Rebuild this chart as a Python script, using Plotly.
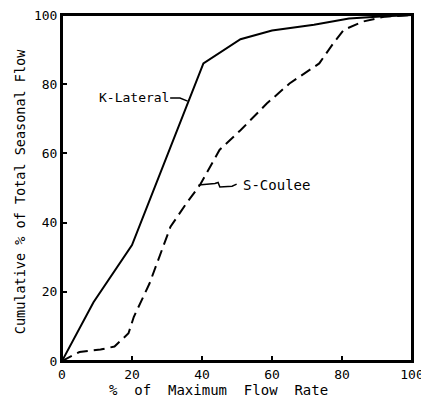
import plotly.graph_objects as go

k_x = [0, 9, 20, 40.4, 51, 60, 72, 82, 91, 100]
k_y = [0, 17, 33.5, 86, 93, 95.5, 97.2, 99, 99.6, 100]

s_x = [0, 5, 11, 15, 19, 20.5, 25, 31, 35.5, 39.5, 45, 51, 58.5, 65, 73.5, 77.5, 80.5, 86, 92, 100]
s_y = [0, 2.6, 3.3, 4.2, 8, 12.7, 22.4, 38.8, 45.5, 51, 61, 66.7, 74.4, 80.2, 86, 91.8, 95.7, 98.1, 99.5, 100]

ticks = [0, 20, 40, 60, 80, 100]

# label leader lines (data coordinates)
k_lead_x = [30.9, 33.7, 35.9]
k_lead_y = [76.0, 76.0, 75.1]
s_lead_x = [39.0, 43.7, 44.6, 45.1, 48.6, 49.9]
s_lead_y = [50.9, 51.3, 51.6, 50.3, 50.5, 51.1]

FONT = "DejaVu Sans Mono"

fig = go.Figure()
fig.add_trace(go.Scatter(x=k_x, y=k_y, mode="lines", name="K-Lateral",
                         line=dict(color="black", width=2)))
fig.add_trace(go.Scatter(x=s_x, y=s_y, mode="lines", name="S-Coulee",
                         line=dict(color="black", width=2, dash="11px,6px")))

fig.add_trace(go.Scatter(x=k_lead_x, y=k_lead_y, mode="lines",
                         line=dict(color="black", width=1.5), hoverinfo="skip"))
fig.add_trace(go.Scatter(x=s_lead_x, y=s_lead_y, mode="lines",
                         line=dict(color="black", width=1.5), hoverinfo="skip"))

fig.add_annotation(x=20.6, y=76.2, text="K-Lateral", showarrow=False,
                   font=dict(family=FONT, size=13, color="black"))
fig.add_annotation(x=61.2, y=50.9, text="S-Coulee", showarrow=False,
                   font=dict(family=FONT, size=14, color="black"))

# axis titles
fig.add_annotation(xref="paper", yref="paper", x=0.446, y=-0.085,
                   xanchor="center", yanchor="middle", showarrow=False,
                   text="%  of  Maximum  Flow  Rate",
                   font=dict(family=FONT, size=14, color="black"))
fig.add_annotation(xref="paper", yref="paper", x=-0.12, y=0.488,
                   xanchor="center", yanchor="middle", showarrow=False, textangle=-90,
                   text="Cumulative % of Total Seasonal Flow",
                   font=dict(family=FONT, size=13.5, color="black"))

fig.add_shape(type="rect", xref="x domain", yref="y domain", x0=0, x1=1, y0=0, y1=1,
              line=dict(color="black", width=2))

axis_common = dict(range=[0, 100], tickvals=ticks, ticktext=[str(t) for t in ticks],
                   ticks="inside", ticklen=5, tickwidth=1.5, tickcolor="black",
                   showline=True, linecolor="black", linewidth=2, mirror=True,
                   showgrid=False, zeroline=False, automargin=False,
                   ticklabeloverflow="allow",
                   tickfont=dict(family=FONT, size=13, color="black"))

fig.update_xaxes(**axis_common)
fig.update_yaxes(**axis_common)

fig.update_layout(width=421, height=403, showlegend=False,
                  margin=dict(l=62, r=9, t=15, b=42),
                  plot_bgcolor="white", paper_bgcolor="white")

fig.write_html("out.html", config={"displayModeBar": False},
               post_script="document.body.style.margin='0';document.body.style.overflow='hidden';")
